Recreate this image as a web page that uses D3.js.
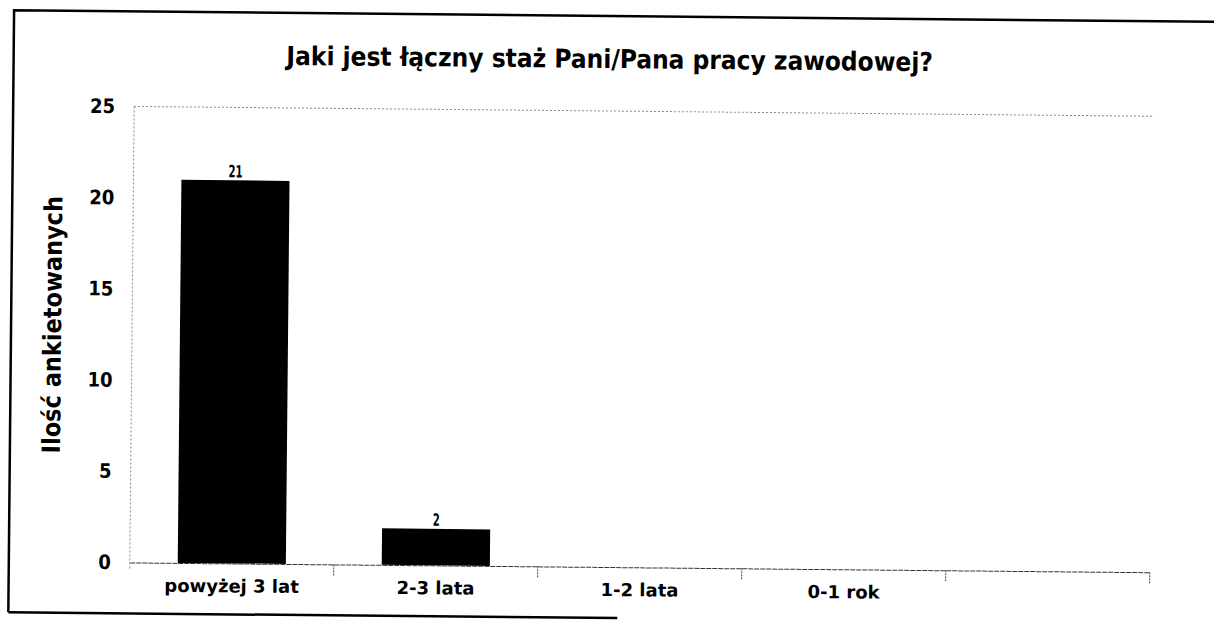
<!DOCTYPE html>
<html>
<head>
<meta charset="utf-8">
<script src="https://cdn.jsdelivr.net/npm/d3@7"></script>
<style>
  body { margin: 0; background: #fff; }
  svg { display: block; }
  text { fill: #000; }
</style>
</head>
<body>
<div id="chart"></div>
<script>
const categories = ["powyżej 3 lat", "2-3 lata", "1-2 lata", "0-1 rok", ""];
const values = [21, 2, 0, 0, 0];
const yTicks = [0, 5, 10, 15, 20, 25];
const title = "Jaki jest łączny staż Pani/Pana pracy zawodowej?";
const yTitle = "Ilość ankietowanych";

const width = 1214;
const height = 621;
const margin = { top: 111, right: 62, bottom: 54, left: 132 };
const innerWidth = width - margin.left - margin.right;
const innerHeight = height - margin.top - margin.bottom;

const condensed = "'DejaVu Sans Condensed', 'DejaVu Sans', sans-serif";

const data = categories.map((c, i) => ({ i, cat: c, val: values[i] }));

const svg = d3.select("#chart")
  .append("svg")
  .attr("width", width)
  .attr("height", height);

// the source is a slightly tilted scan
const page = svg.append("g")
  .attr("transform", "rotate(0.55, 607, 335)");

// page frame
page.append("path")
  .attr("d", "M11,618 L11,16 L1240,16")
  .attr("fill", "none")
  .attr("stroke", "#000")
  .attr("stroke-width", 2.5);
page.append("line")
  .attr("x1", 11).attr("x2", 620)
  .attr("y1", 618).attr("y2", 618)
  .attr("stroke", "#000")
  .attr("stroke-width", 2.5);

page.append("text")
  .attr("x", 607)
  .attr("y", 68)
  .attr("text-anchor", "middle")
  .style("font-family", condensed)
  .style("font-weight", "bold")
  .style("font-size", "26px")
  .text(title);

const inner = page.append("g")
  .attr("transform", `translate(${margin.left}, ${margin.top})`);

const xGrid = d3.scaleBand()
  .domain(data.map(d => d.i))
  .range([0, innerWidth]);

const xScale = d3.scaleBand()
  .domain(data.map(d => d.i))
  .range([0, innerWidth])
  .paddingInner(0.47)
  .paddingOuter(0.235);

const yScale = d3.scaleLinear()
  .domain([0, 25])
  .range([innerHeight, 0]);

// dotted plot frame
inner.append("line")
  .attr("x1", 0).attr("x2", innerWidth)
  .attr("y1", 0).attr("y2", 0)
  .attr("stroke", "#888")
  .attr("stroke-dasharray", "2,2");
inner.append("line")
  .attr("x1", 0).attr("x2", 0)
  .attr("y1", 0).attr("y2", innerHeight + 6)
  .attr("stroke", "#888")
  .attr("stroke-dasharray", "2,2");

const shown = data.filter(d => d.val > 0);

inner.selectAll("rect.bar")
  .data(shown)
  .join("rect")
  .attr("class", "bar")
  .attr("x", d => xScale(d.i))
  .attr("width", xScale.bandwidth())
  .attr("y", d => yScale(d.val))
  .attr("height", d => yScale(0) - yScale(d.val))
  .attr("fill", "#000");

inner.selectAll("text.val")
  .data(shown)
  .join("text")
  .attr("class", "val")
  .attr("x", d => xScale(d.i) + xScale.bandwidth() / 2)
  .attr("y", d => yScale(d.val) - 3)
  .attr("text-anchor", "middle")
  .attr("textLength", d => String(d.val).length * 7)
  .attr("lengthAdjust", "spacingAndGlyphs")
  .style("font-family", condensed)
  .style("font-weight", "bold")
  .style("font-size", "17px")
  .text(d => d.val);

// x axis
const xAxis = d3.axisBottom(xGrid)
  .tickSize(0)
  .tickFormat(i => categories[i]);

const gx = inner.append("g")
  .attr("transform", `translate(0, ${innerHeight})`)
  .call(xAxis);
gx.select(".domain")
  .attr("stroke", "#333")
  .attr("stroke-dasharray", "5,1");
gx.selectAll(".tick")
  .filter(i => categories[i] === "")
  .remove();
gx.selectAll("text")
  .attr("dy", 26)
  .style("font-family", "'DejaVu Sans', sans-serif")
  .style("font-weight", "bold")
  .style("font-size", "18px");

// band separators below the axis
const seps = data.map(d => d.i).slice(1).map(i => xGrid(i)).concat([innerWidth]);
inner.selectAll("line.sep")
  .data(seps)
  .join("line")
  .attr("class", "sep")
  .attr("x1", x => x)
  .attr("x2", x => x)
  .attr("y1", innerHeight)
  .attr("y2", innerHeight + 12)
  .attr("stroke", "#444")
  .attr("stroke-dasharray", "2,1");

// y axis
const yAxis = d3.axisLeft(yScale)
  .tickValues(yTicks)
  .tickSize(0)
  .tickPadding(19);

const gy = inner.append("g").call(yAxis);
gy.select(".domain").remove();
gy.selectAll("text")
  .style("font-family", condensed)
  .style("font-weight", "bold")
  .style("font-size", "20px");

page.append("text")
  .attr("transform", "translate(61, 330) rotate(-90)")
  .attr("text-anchor", "middle")
  .style("font-family", condensed)
  .style("font-weight", "bold")
  .style("font-size", "25px")
  .text(yTitle);
</script>
</body>
</html>
